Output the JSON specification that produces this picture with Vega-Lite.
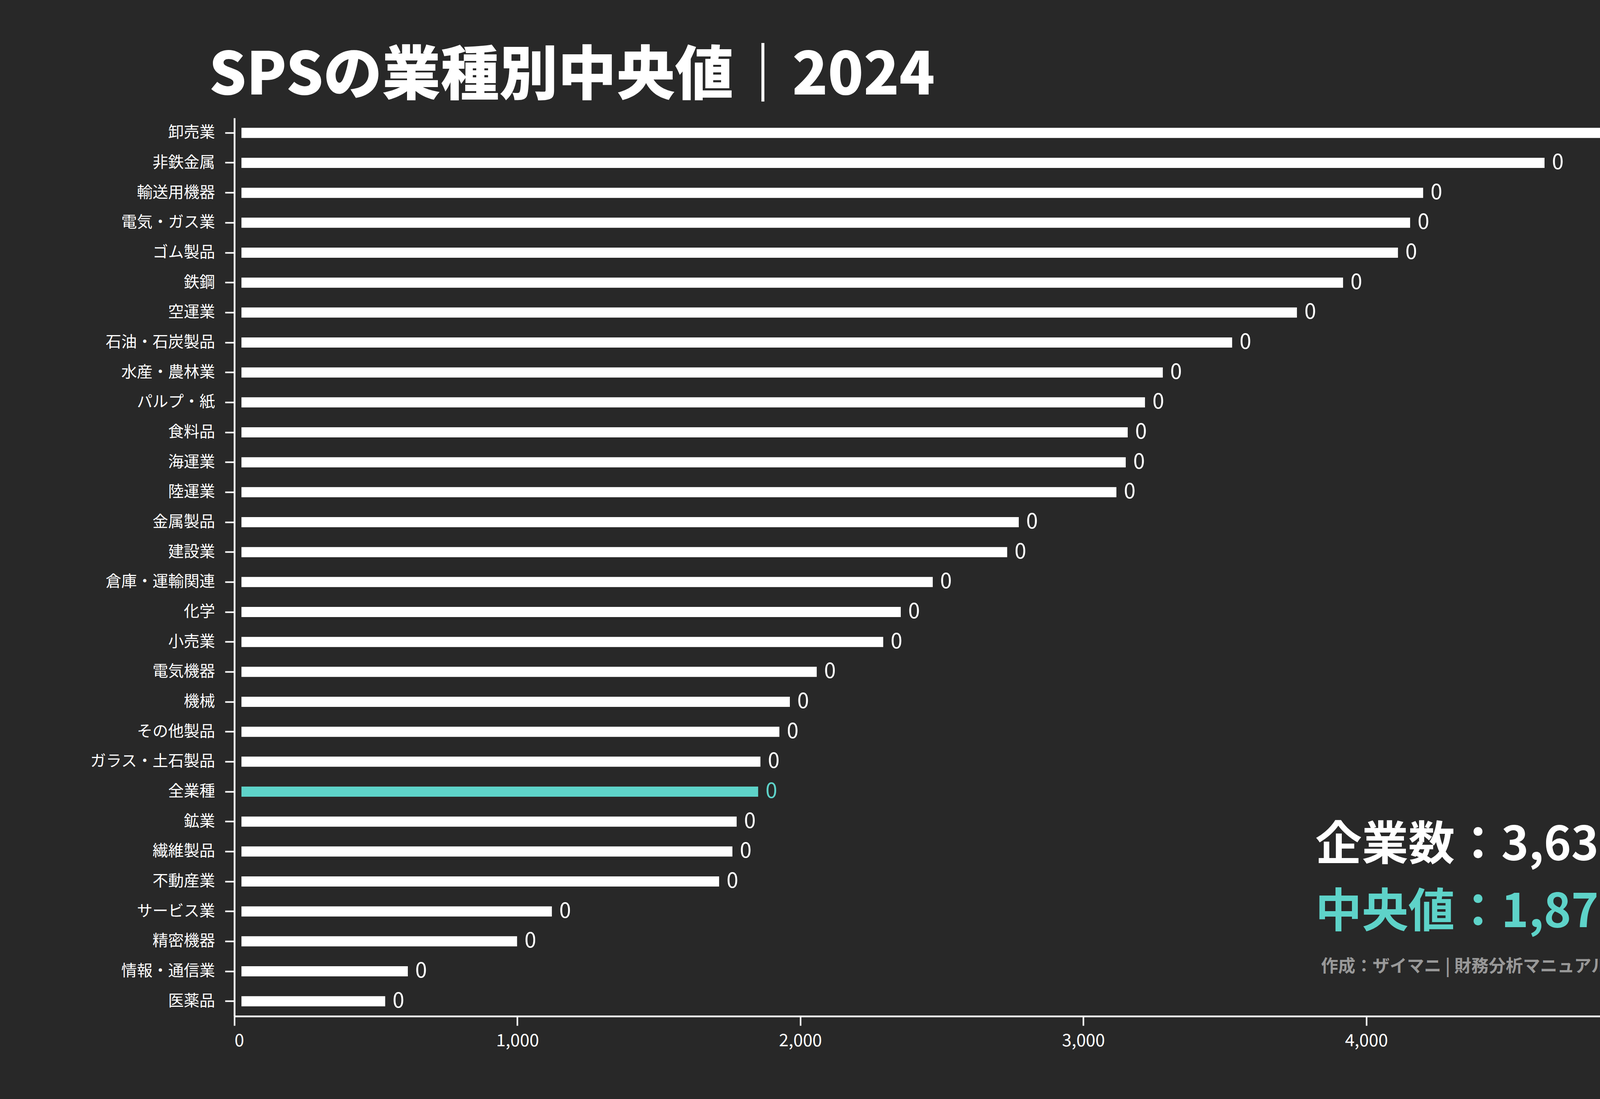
{
  "$schema": "https://vega.github.io/schema/vega-lite/v6.json",
  "width": 3651,
  "height": 2300,
  "autosize": {"type": "none"},
  "padding": {"left": 600, "top": 302, "right": 749, "bottom": 212},
  "background": "#282828",
  "config": {
    "view": {"stroke": null},
    "font": "Noto Sans CJK JP",
    "axis": {
      "grid": false,
      "domainColor": "#ffffff",
      "domainWidth": 4.5,
      "tickColor": "#ffffff",
      "tickWidth": 4,
      "tickSize": 24,
      "labelColor": "#ffffff",
      "labelFont": "Noto Sans CJK JP",
      "titleFont": "Noto Sans CJK JP",
      "labelLimit": 1000
    }
  },
  "title": {
    "text": "SPSの業種別中央値｜2024",
    "anchor": "start",
    "frame": "group",
    "dx": -65,
    "offset": -90,
    "baseline": "alphabetic",
    "fontSize": 150,
    "fontWeight": 900,
    "color": "#ffffff",
    "font": "Noto Sans CJK JP"
  },
  "datasets": {
    "main": [
      {"industry": "卸売業", "value": 4993, "label": "0"},
      {"industry": "非鉄金属", "value": 4630, "label": "0"},
      {"industry": "輸送用機器", "value": 4201, "label": "0"},
      {"industry": "電気・ガス業", "value": 4155, "label": "0"},
      {"industry": "ゴム製品", "value": 4112, "label": "0"},
      {"industry": "鉄鋼", "value": 3918, "label": "0"},
      {"industry": "空運業", "value": 3755, "label": "0"},
      {"industry": "石油・石炭製品", "value": 3526, "label": "0"},
      {"industry": "水産・農林業", "value": 3281, "label": "0"},
      {"industry": "パルプ・紙", "value": 3218, "label": "0"},
      {"industry": "食料品", "value": 3157, "label": "0"},
      {"industry": "海運業", "value": 3150, "label": "0"},
      {"industry": "陸運業", "value": 3117, "label": "0"},
      {"industry": "金属製品", "value": 2772, "label": "0"},
      {"industry": "建設業", "value": 2731, "label": "0"},
      {"industry": "倉庫・運輸関連", "value": 2468, "label": "0"},
      {"industry": "化学", "value": 2355, "label": "0"},
      {"industry": "小売業", "value": 2293, "label": "0"},
      {"industry": "電気機器", "value": 2058, "label": "0"},
      {"industry": "機械", "value": 1963, "label": "0"},
      {"industry": "その他製品", "value": 1926, "label": "0"},
      {"industry": "ガラス・土石製品", "value": 1859, "label": "0"},
      {"industry": "全業種", "value": 1851, "label": "0"},
      {"industry": "鉱業", "value": 1775, "label": "0"},
      {"industry": "繊維製品", "value": 1760, "label": "0"},
      {"industry": "不動産業", "value": 1713, "label": "0"},
      {"industry": "サービス業", "value": 1122, "label": "0"},
      {"industry": "精密機器", "value": 999, "label": "0"},
      {"industry": "情報・通信業", "value": 613, "label": "0"},
      {"industry": "医薬品", "value": 533, "label": "0"}
    ]
  },
  "layer": [
    {
      "data": {"name": "main"},
      "mark": {"type": "bar"},
      "encoding": {
        "y": {
          "field": "industry",
          "type": "nominal",
          "sort": null,
          "scale": {
            "domain": ["卸売業", "非鉄金属", "輸送用機器", "電気・ガス業", "ゴム製品", "鉄鋼", "空運業", "石油・石炭製品", "水産・農林業", "パルプ・紙", "食料品", "海運業", "陸運業", "金属製品", "建設業", "倉庫・運輸関連", "化学", "小売業", "電気機器", "機械", "その他製品", "ガラス・土石製品", "全業種", "鉱業", "繊維製品", "不動産業", "サービス業", "精密機器", "情報・通信業", "医薬品"],
            "paddingInner": 0.66,
            "paddingOuter": 0.33
          },
          "axis": {
            "title": null,
            "labelFontSize": 40,
            "labelPadding": 26
          }
        },
        "x": {
          "field": "value",
          "type": "quantitative",
          "scale": {"domain": [0, 5040], "nice": false, "zero": true},
          "axis": {
            "values": [0, 1000, 2000, 3000, 4000, 5000],
            "format": ",d",
            "labelFontSize": 44,
            "labelPadding": 17,
            "title": "( 円 )",
            "titleX": 3691,
            "titleY": 2,
            "titleAlign": "left",
            "titleBaseline": "middle",
            "titleFontSize": 48,
            "titleFontWeight": "normal",
            "titleColor": "#ffffff"
          }
        },
        "x2": {"datum": 25},
        "color": {
          "condition": {"test": "datum.industry === '全業種'", "value": "#5ED3C9"},
          "value": "#ffffff"
        }
      }
    },
    {
      "data": {"name": "main"},
      "mark": {"type": "text", "align": "left", "baseline": "middle", "dx": 19, "fontSize": 54, "font": "Noto Sans CJK JP"},
      "encoding": {
        "y": {"field": "industry", "type": "nominal", "sort": null},
        "x": {"field": "value", "type": "quantitative"},
        "text": {"field": "label"},
        "color": {
          "condition": {"test": "datum.industry === '全業種'", "value": "#5ED3C9"},
          "value": "#ffffff"
        }
      }
    },
    {
      "data": {"values": [{"t": "企業数：3,637社"}]},
      "mark": {"type": "text", "align": "left", "baseline": "middle", "dy": -14, "fontSize": 119, "fontWeight": "bold", "font": "Noto Sans CJK JP", "color": "#ffffff"},
      "encoding": {
        "x": {"datum": 3820, "type": "quantitative"},
        "y": {"datum": "繊維製品", "type": "nominal"},
        "text": {"field": "t"}
      }
    },
    {
      "data": {"values": [{"t": "中央値：1,876円"}]},
      "mark": {"type": "text", "align": "left", "baseline": "middle", "dy": 4, "fontSize": 119, "fontWeight": "bold", "font": "Noto Sans CJK JP", "color": "#5ED3C9"},
      "encoding": {
        "x": {"datum": 3820, "type": "quantitative"},
        "y": {"datum": "サービス業", "type": "nominal"},
        "text": {"field": "t"}
      }
    },
    {
      "data": {"values": [{"t": "作成：ザイマニ | 財務分析マニュアル https://zaimani.com/"}]},
      "mark": {"type": "text", "align": "left", "baseline": "middle", "dy": -11, "fontSize": 44, "fontWeight": "bold", "font": "Noto Sans CJK JP", "color": "#999999"},
      "encoding": {
        "x": {"datum": 3840, "type": "quantitative"},
        "y": {"datum": "情報・通信業", "type": "nominal"},
        "text": {"field": "t"}
      }
    }
  ]
}
